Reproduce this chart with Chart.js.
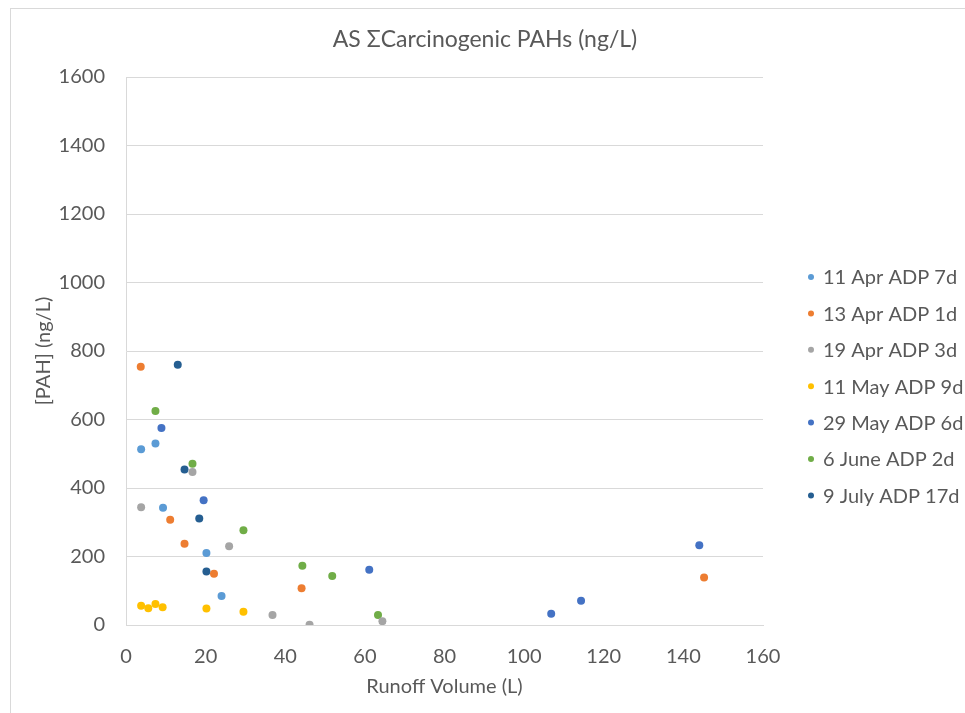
<!DOCTYPE html>
<html>
<head>
<meta charset="utf-8">
<script src="https://cdn.jsdelivr.net/npm/chart.js@4"></script>
<style>
  html, body { margin: 0; padding: 0; background: #fff; }
  #wrap { width: 965px; height: 713px; }
</style>
</head>
<body>
<div id="wrap"><canvas id="myChart" width="965" height="713"></canvas></div>
<script>
// series labels
const seriesNames = ['11 Apr ADP 7d', '13 Apr ADP 1d', '19 Apr ADP 3d', '11 May ADP 9d', '29 May ADP 6d', '6 June ADP 2d', '9 July ADP 17d'];
const seriesColors = ['#5B9BD5', '#ED7D31', '#A5A5A5', '#FFC000', '#4472C4', '#70AD47', '#255E91'];

// runoff volume (L) and [PAH] (ng/L) for each event
const apr11X = [3.8, 7.4, 9.3, 20.2, 24.0];
const apr11Y = [513, 530, 342, 210, 85];
const apr13X = [3.7, 11.1, 14.7, 22.1, 44.1, 145.2];
const apr13Y = [754, 307, 237, 150, 107, 139];
const apr19X = [3.8, 16.7, 25.9, 36.8, 46.1, 64.4];
const apr19Y = [344, 447, 230, 29, 1, 11];
const may11X = [3.8, 5.6, 7.4, 9.2, 20.2, 29.5];
const may11Y = [56, 49, 61, 52, 48, 39];
const may29X = [8.9, 19.5, 61.1, 106.8, 114.3, 144.0];
const may29Y = [575, 364, 161, 33, 71, 233];
const jun6X = [7.4, 16.7, 29.5, 44.3, 51.8, 63.3];
const jun6Y = [625, 471, 277, 173, 143, 29];
const jul9X = [13.0, 14.7, 18.4, 20.2];
const jul9Y = [760, 454, 311, 156];

const xTicks = [0, 20, 40, 60, 80, 100, 120, 140, 160];
const yTicks = [0, 200, 400, 600, 800, 1000, 1200, 1400, 1600];

const allX = [apr11X, apr13X, apr19X, may11X, may29X, jun6X, jul9X];
const allY = [apr11Y, apr13Y, apr19Y, may11Y, may29Y, jun6Y, jul9Y];

const chartTitle = 'AS ΣCarcinogenic PAHs (ng/L)';
const FONT = 'Lato, "Open Sans", sans-serif';
const TXT = '#595959';

const datasets = seriesNames.map((name, i) => ({
    label: name,
    data: allX[i].map((x, j) => ({ x: x, y: allY[i][j] })),
    backgroundColor: seriesColors[i],
    borderColor: seriesColors[i],
    borderWidth: 0,
    pointRadius: 4,
    pointHoverRadius: 4
}));

// frame, white background and the title (centred on the whole picture)
const framePlugin = {
    id: 'frame',
    beforeDraw(chart) {
        const ctx = chart.ctx;
        ctx.save();
        ctx.fillStyle = '#fff';
        ctx.fillRect(0, 0, chart.width, chart.height);
        ctx.strokeStyle = '#d9d9d9';
        ctx.lineWidth = 1;
        ctx.strokeRect(10.5, 8.5, 1000, 1000);
        ctx.fillStyle = TXT;
        ctx.font = '23px ' + FONT;
        ctx.textAlign = 'center';
        ctx.textBaseline = 'middle';
        ctx.fillText(chartTitle, 485, 40);
        ctx.restore();
    }
};

// legend on the right, drawn by hand so rows line up with the picture
const legendPlugin = {
    id: 'sideLegend',
    afterDraw(chart) {
        const ctx = chart.ctx;
        ctx.save();
        ctx.font = '20px ' + FONT;
        ctx.textBaseline = 'middle';
        ctx.textAlign = 'left';
        seriesNames.forEach((name, i) => {
            const y = 277 + i * 36.4;
            ctx.fillStyle = seriesColors[i];
            ctx.beginPath();
            ctx.arc(811, y, 3, 0, Math.PI * 2);
            ctx.fill();
            ctx.fillStyle = TXT;
            ctx.fillText(name, 823, y + 1);
        });
        ctx.restore();
    }
};

const ctx = document.getElementById('myChart').getContext('2d');
const myChart = new Chart(ctx, {
    type: 'scatter',
    data: { datasets: datasets },
    plugins: [framePlugin, legendPlugin],
    options: {
        responsive: false,
        animation: false,
        events: [],
        layout: { padding: { left: 10, right: 202, top: 77, bottom: 0 } },
        plugins: {
            legend: { display: false },
            tooltip: { enabled: false },
            title: { display: false }
        },
        scales: {
            x: {
                type: 'linear',
                min: 0,
                max: 160,
                afterFit(scale) { scale.height = 88; },
                afterBuildTicks(scale) { scale.ticks = xTicks.map(v => ({ value: v })); },
                grid: { display: false, drawTicks: false },
                border: { display: true, color: '#d9d9d9', width: 1 },
                ticks: { color: TXT, padding: 20, maxRotation: 0, font: { family: FONT, size: 20 },
                    callback: v => String(v) },
                title: {
                    display: true,
                    text: 'Runoff Volume (L)',
                    color: TXT,
                    padding: { top: 0, bottom: 14 },
                    font: { family: FONT, size: 20 }
                }
            },
            y: {
                type: 'linear',
                min: 0,
                max: 1600,
                afterFit(scale) { scale.width = 116; },
                afterBuildTicks(scale) { scale.ticks = yTicks.map(v => ({ value: v })); },
                grid: { color: '#d9d9d9', drawTicks: false },
                border: { display: true, color: '#d9d9d9', width: 1 },
                ticks: { color: TXT, padding: 21, font: { family: FONT, size: 20 },
                    callback: v => String(v) },
                title: {
                    display: true,
                    text: '[PAH] (ng/L)',
                    color: TXT,
                    padding: { top: 22, bottom: 0 },
                    font: { family: FONT, size: 20 }
                }
            }
        }
    }
});
</script>
</body>
</html>
